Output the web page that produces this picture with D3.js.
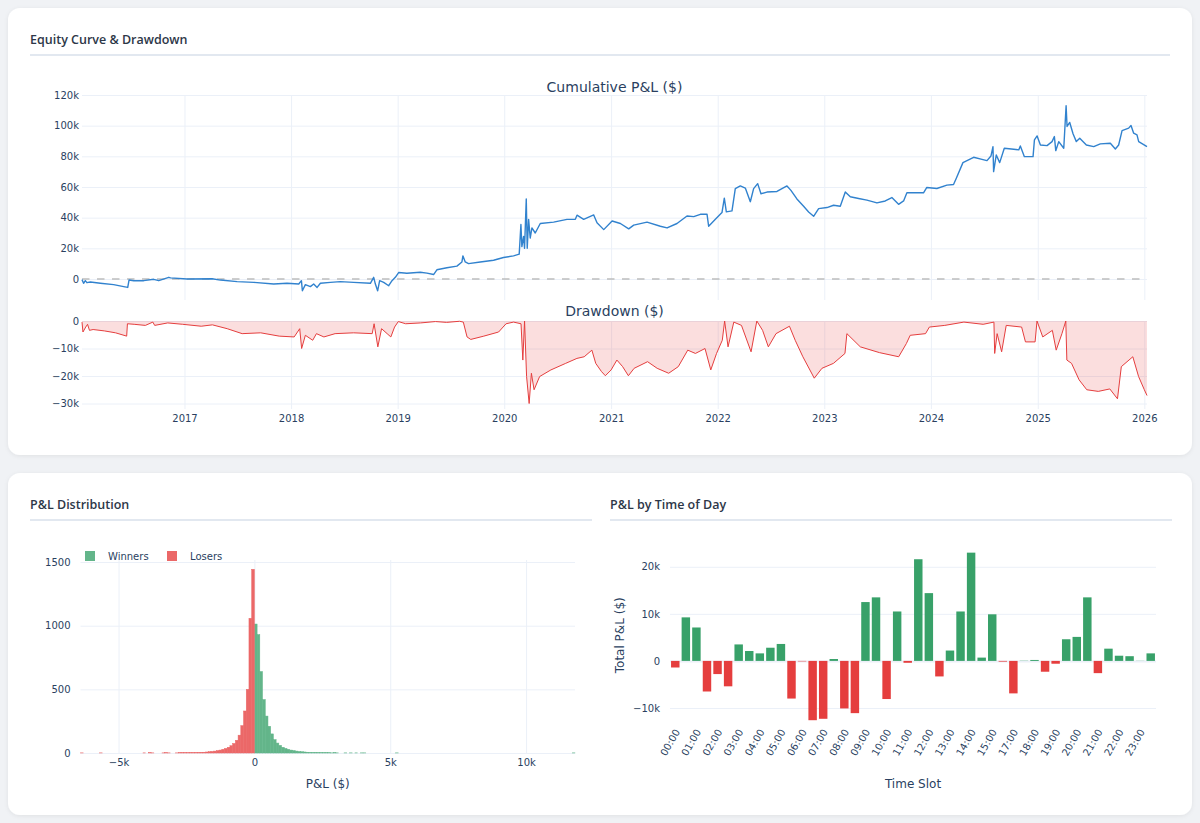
<!DOCTYPE html>
<html>
<head>
<meta charset="utf-8">
<script src="https://cdn.jsdelivr.net/npm/d3@7"></script>
<style>
  html, body { margin: 0; padding: 0; background: #f0f2f5; }
  svg { display: block; }
</style>
</head>
<body>
<svg id="dash" width="1200" height="823"></svg>
<script>
// ---- data ----
// equity curve: decimal year, cumulative P&L in $k
var eqYears = [2016.041,2016.056,2016.072,2016.087,2016.119,2016.213,2016.337,2016.431,2016.469,2016.481,
  2016.525,2016.619,2016.712,2016.759,2016.853,2016.869,2017.025,2017.259,2017.337,2017.494,
  2017.65,2017.837,2017.962,2018.072,2018.097,2018.106,2018.134,2018.181,2018.212,2018.244,
  2018.275,2018.369,2018.462,2018.587,2018.744,2018.775,2018.791,2018.812,2018.831,2018.869,
  2018.916,2018.947,2018.978,2019.009,2019.087,2019.212,2019.275,2019.337,2019.368,2019.462,
  2019.556,2019.603,2019.612,2019.634,2019.665,2019.775,2019.9,2019.993,2020.087,2020.14,
  2020.156,2020.165,2020.181,2020.19,2020.206,2020.215,2020.228,2020.243,2020.259,2020.29,
  2020.337,2020.462,2020.587,2020.665,2020.681,2020.743,2020.837,2020.868,2020.931,2021.009,
  2021.087,2021.165,2021.212,2021.337,2021.462,2021.525,2021.618,2021.712,2021.775,2021.837,
  2021.9,2021.915,2021.978,2022.04,2022.062,2022.081,2022.134,2022.165,2022.212,2022.259,
  2022.306,2022.337,2022.375,2022.406,2022.462,2022.556,2022.65,2022.687,2022.743,2022.806,
  2022.853,2022.9,2022.947,2023.025,2023.087,2023.15,2023.197,2023.244,2023.322,2023.4,
  2023.494,2023.572,2023.634,2023.697,2023.744,2023.775,2023.869,2023.931,2023.962,2024.056,
  2024.15,2024.212,2024.237,2024.3,2024.4,2024.478,2024.525,2024.562,2024.581,2024.587,
  2024.612,2024.644,2024.687,2024.775,2024.822,2024.837,2024.875,2024.956,2024.969,2024.994,
  2025.025,2025.087,2025.134,2025.156,2025.169,2025.197,2025.244,2025.266,2025.275,2025.3,
  2025.331,2025.362,2025.394,2025.456,2025.525,2025.587,2025.681,2025.728,2025.759,2025.791,
  2025.853,2025.875,2025.9,2025.931,2025.947,2026.025];
var eqK = [-0.4,-2.8,-1.1,-2.4,-2.0,-2.8,-3.7,-5.0,-5.5,-0.7,
  -1.1,-1.1,-0.2,-1.1,1.1,0.7,0,0.2,-0.7,-1.7,
  -2.2,-3.3,-2.8,-3.3,-1.1,-7.7,-3.7,-5.0,-3.3,-5.5,
  -2.8,-2.2,-1.7,-2.2,-2.8,1.1,-3.3,-7.7,-1.1,-2.2,
  -4.4,-1.1,1.1,4.2,3.7,4.4,3.8,2.9,6.0,7.3,
  8.4,11.1,15.1,11.1,10.0,11.1,12.2,14.0,15.1,16.2,
  35.5,21.1,27.8,20.0,52.2,20.0,38.9,26.7,33.3,30.0,
  36.2,37.1,38.9,38.9,41.6,38.9,41.8,36.7,32.2,37.8,
  36.2,32.7,35.1,37.1,34.4,33.3,36.2,41.1,40.7,42.2,
  42.2,34.4,38.9,43.3,52.7,43.8,44.4,58.9,60.7,59.3,
  50.4,58.9,62.2,55.6,56.7,57.1,60.7,57.8,52.2,47.4,
  43.7,40.9,45.9,46.6,48.1,47.4,56.8,53.6,52.5,51.4,
  49.6,50.9,53.1,48.7,50.9,56.2,56.2,56.2,59.7,59.0,
  61.2,61.6,65.6,75.9,79.4,78.0,77.2,80.2,86.3,70.0,
  80.9,75.9,85.3,84.6,84.2,86.8,79.8,79.8,90.7,93.3,
  87.4,87.0,89.6,92.9,83.7,89.6,85.3,113.0,99.5,102.1,
  94.7,89.6,91.8,87.4,86.3,88.1,88.5,84.8,87.4,96.8,
  98.4,100.1,95.1,94.0,89.6,86.3];

// drawdown: decimal year, $k
var ddYears = [2016.041,2016.05,2016.076,2016.093,2016.111,2016.145,2016.25,2016.355,2016.459,2016.466,
  2016.529,2016.634,2016.704,2016.721,2016.843,2016.983,2017.157,2017.262,2017.401,2017.541,
  2017.715,2017.889,2018.029,2018.081,2018.099,2018.134,2018.203,2018.238,2018.308,2018.413,
  2018.587,2018.761,2018.779,2018.814,2018.849,2018.901,2018.936,2018.971,2019.006,2019.075,
  2019.215,2019.354,2019.459,2019.581,2019.616,2019.651,2019.686,2019.808,2019.947,2020.017,
  2020.087,2020.157,2020.174,2020.19,2020.209,2020.233,2020.254,2020.279,2020.331,2020.436,
  2020.575,2020.68,2020.748,2020.82,2020.856,2020.91,2020.946,2021.0,2021.054,2021.108,
  2021.162,2021.216,2021.342,2021.432,2021.54,2021.63,2021.719,2021.791,2021.881,2021.935,
  2021.989,2022.043,2022.065,2022.097,2022.151,2022.223,2022.313,2022.367,2022.421,2022.475,
  2022.547,2022.673,2022.727,2022.799,2022.906,2022.978,2023.086,2023.194,2023.212,2023.338,
  2023.518,2023.698,2023.77,2023.806,2023.95,2023.986,2024.13,2024.309,2024.489,2024.59,
  2024.597,2024.62,2024.662,2024.705,2024.849,2024.885,2024.975,2024.993,2025.047,2025.137,
  2025.173,2025.227,2025.263,2025.273,2025.317,2025.388,2025.46,2025.568,2025.676,2025.748,
  2025.784,2025.892,2025.946,2026.0,2026.025];
var ddK = [-0.4,-4.0,-2.2,-1.2,-3.4,-3.1,-3.6,-4.3,-5.5,-1.0,
  -1.2,-1.6,-0.4,-1.6,-0.7,-1.2,-1.9,-1.4,-2.8,-4.6,
  -4.3,-5.5,-5.8,-2.8,-10.0,-5.2,-7.0,-4.6,-5.8,-4.6,
  -4.3,-4.6,-1.0,-9.4,-2.8,-4.6,-5.8,-2.2,-0.2,-1.0,
  -0.7,-0.2,-0.5,-0.1,-0.4,-5.8,-6.7,-5.5,-4.0,-1.0,
  -0.4,-1.0,-14.2,0,-20.2,-30.0,-19.0,-25.0,-20.2,-17.8,
  -15.4,-13.6,-13.0,-10.6,-15.4,-18.4,-19.9,-17.8,-14.2,-16.6,
  -19.9,-17.2,-14.8,-17.2,-19.0,-16.6,-10.6,-11.8,-10.0,-17.8,
  -11.8,-7.0,0,-9.4,-0.4,-1.6,-11.2,0,-3.4,-9.4,
  -4.6,-1.9,-7.0,-13.0,-20.8,-17.2,-15.4,-11.8,-4.6,-9.4,
  -11.5,-13.0,-8.2,-5.2,-4.6,-2.2,-1.6,-0.4,-1.2,-0.4,
  -11.8,-4.6,-11.2,-1.6,-2.2,-7.6,-7.6,0,-5.8,-3.4,
  -10.6,-4.6,0,-14.2,-15.4,-21.4,-25.0,-25.6,-24.7,-28.3,
  -16.6,-13.0,-20.2,-25.0,-27.1];

// P&L histogram, $100 bins (bin start, count)
var binSize = 100;
var loserBinStart = [-6400,-5700,-4100,-3900,-3800,-3400,-3300,-3200,-2900,-2800,-2700,-2600,-2500,-2400,
  -2300,-2200,-2100,-2000,-1900,-1800,-1700,-1600,-1500,-1400,-1300,-1200,-1100,-1000,-900,-800,
  -700,-600,-500,-400,-300,-200,-100];
var loserCounts = [1,1,1,2,1,1,2,1,1,2,2,3,2,3,
  3,4,4,5,6,8,10,12,15,19,23,29,36,45,57,75,
  100,140,215,330,500,1058,1443];
var winnerBinStart = [0,100,200,300,400,500,600,700,800,900,1000,1100,1200,1300,1400,1500,1600,1700,1800,1900,
  2000,2100,2200,2300,2400,2500,2600,2700,2800,2900,3000,3300,3500,3700,3900,4000,5200,11700];
var winnerCounts = [1013,930,640,420,290,210,150,105,78,60,45,36,29,23,19,15,12,10,8,6,
  5,4,4,3,3,2,2,2,1,2,1,1,1,1,1,1,1,1];

// P&L by time slot ($)
var slotLabels = ["00:00","00:30","01:00","01:30","02:00","02:30","03:00","03:30","04:00","04:30",
  "05:00","05:30","06:00","06:30","07:00","07:30","08:00","08:30","09:00","09:30",
  "10:00","10:30","11:00","11:30","12:00","12:30","13:00","13:30","14:00","14:30",
  "15:00","15:30","17:00","17:30","18:00","18:30","19:00","19:30","20:00","20:30",
  "21:00","21:30","22:00","22:30","23:00","23:30"];
var slotPnl = [-1400,9250,7100,-6500,-2800,-5400,3500,2100,1600,2800,
  3600,-8000,-100,-12600,-12300,400,-10100,-11100,12500,13500,
  -8100,10500,-400,21600,14400,-3300,2200,10500,23000,700,
  9900,-150,-6900,50,200,-2300,-600,4600,5100,13500,
  -2600,2600,1100,1000,30,1600];

// ---- styling ----
var PF = "'DejaVu Sans', Verdana, sans-serif";
var TXT = "#2a3f5f";
var GRID = "#ebf0f8";
var GREEN = "#38a169", RED = "#e53e3e", BLUE = "#3182ce";
var HGREEN = "#63b58a", HRED = "#eb6868";   // histogram tones (semi-transparent look)

var svg = d3.select("#dash");

var defs = svg.append("defs");
var f = defs.append("filter").attr("id", "shadow").attr("x", "-5%").attr("y", "-5%").attr("width", "110%").attr("height", "115%");
f.append("feDropShadow").attr("dx", 0).attr("dy", 1).attr("stdDeviation", 2).attr("flood-color", "#000").attr("flood-opacity", 0.07);

// cards
svg.append("rect").attr("x", 8).attr("y", 8).attr("width", 1184).attr("height", 447)
  .attr("rx", 12).attr("fill", "#fff").attr("filter", "url(#shadow)");
svg.append("rect").attr("x", 8).attr("y", 473).attr("width", 1184).attr("height", 342)
  .attr("rx", 12).attr("fill", "#fff").attr("filter", "url(#shadow)");

function cardTitle(label, x, y, x2) {
  svg.append("text").attr("x", x).attr("y", y).text(label)
    .attr("font-family", "'Open Sans', 'Noto Sans', sans-serif").attr("font-weight", 600)
    .attr("font-size", "12.5px").attr("fill", "#2d3748");
  svg.append("line").attr("x1", x).attr("x2", x2).attr("y1", y + 11).attr("y2", y + 11)
    .attr("stroke", "#e2e8f0").attr("stroke-width", 2);
}
cardTitle("Equity Curve & Drawdown", 30, 44, 1170);
cardTitle("P&L Distribution", 30, 509, 592);
cardTitle("P&L by Time of Day", 610, 509, 1172);

function styleAxis(g, lineColor, lineW) {
  g.select(".domain").remove();
  g.selectAll(".tick line").attr("stroke", lineColor || GRID).attr("stroke-width", lineW || 1);
  g.selectAll("text").attr("fill", TXT).attr("font-family", PF).attr("font-size", "10px");
}
var fmtK = function (d) { return d === 0 ? "0" : d3.format("~s")(d); };

function yearToDate(y) {
  var yr = Math.floor(y);
  var s = Date.UTC(yr, 0, 1), e = Date.UTC(yr + 1, 0, 1);
  return new Date(s + (y - yr) * (e - s));
}

// ---- equity + drawdown ----
var X0 = 82, X1 = 1147;
var eqTop = 95, eqBot = 300, ddTop = 321, ddBot = 409;

var equity = eqYears.map(function (y, i) { return { date: yearToDate(y), v: eqK[i] * 1000 }; });
var drawdown = ddYears.map(function (y, i) { return { date: yearToDate(y), v: ddK[i] * 1000 }; });

var x = d3.scaleUtc()
  .domain([yearToDate(eqYears[0]), yearToDate(eqYears[eqYears.length - 1])])
  .range([X0, X1]);
var yEq = d3.scaleLinear().domain([-13700, 120000]).range([eqBot, eqTop]);
var yDd = d3.scaleLinear().domain([-32000, 0]).range([ddBot, ddTop]);

var eqG = svg.append("g");

// vertical year grid, top subplot
eqG.append("g").attr("transform", "translate(0," + eqBot + ")")
  .call(d3.axisBottom(x).ticks(d3.utcYear.every(1)).tickSize(-(eqBot - eqTop)).tickFormat(""))
  .call(styleAxis);
// horizontal grid + labels, top subplot
eqG.append("g").attr("transform", "translate(" + X0 + ",0)")
  .call(d3.axisLeft(yEq).tickValues(d3.range(0, 120001, 20000)).tickSize(-(X1 - X0)).tickPadding(3).tickFormat(fmtK))
  .call(styleAxis);
// vertical year grid + labels, drawdown subplot
eqG.append("g").attr("transform", "translate(0," + ddBot + ")")
  .call(d3.axisBottom(x).ticks(d3.utcYear.every(1)).tickSize(-(ddBot - ddTop)).tickPadding(6).tickFormat(d3.utcFormat("%Y")))
  .call(styleAxis);
eqG.append("g").attr("transform", "translate(" + X0 + ",0)")
  .call(d3.axisLeft(yDd).tickValues([0, -10000, -20000, -30000]).tickSize(-(X1 - X0)).tickPadding(3).tickFormat(fmtK))
  .call(styleAxis);

// zero reference line
eqG.append("line").attr("x1", X0).attr("x2", X1).attr("y1", yEq(0)).attr("y2", yEq(0))
  .attr("stroke", "#bdbdbd").attr("stroke-width", 1.5).attr("stroke-dasharray", "7.5,7.5");

eqG.append("path").datum(equity)
  .attr("d", d3.line().x(function (d) { return x(d.date); }).y(function (d) { return yEq(d.v); }))
  .attr("fill", "none").attr("stroke", BLUE).attr("stroke-width", 1.4).attr("stroke-linejoin", "round");

eqG.append("path").datum(drawdown)
  .attr("d", d3.area().x(function (d) { return x(d.date); }).y0(yDd(0)).y1(function (d) { return yDd(d.v); }))
  .attr("fill", "rgba(229,62,62,0.17)");
eqG.append("path").datum(drawdown)
  .attr("d", d3.line().x(function (d) { return x(d.date); }).y(function (d) { return yDd(d.v); }))
  .attr("fill", "none").attr("stroke", RED).attr("stroke-width", 1);

eqG.append("text").attr("x", (X0 + X1) / 2).attr("y", 92).attr("text-anchor", "middle")
  .attr("font-family", PF).attr("font-size", "14px").attr("fill", TXT).text("Cumulative P&L ($)");
eqG.append("text").attr("x", (X0 + X1) / 2).attr("y", 316).attr("text-anchor", "middle")
  .attr("font-family", PF).attr("font-size", "14px").attr("fill", TXT).text("Drawdown ($)");

// ---- histogram ----
var H0 = 80.5, H1 = 575, hTop = 560, hBot = 753;
var hx = d3.scaleLinear().domain([-6400, 11800]).range([H0, H1]);
var hy = d3.scaleLinear().domain([0, 1516]).range([hBot, hTop]);
var hist = svg.append("g");

hist.append("g").attr("transform", "translate(0," + hBot + ")")
  .call(d3.axisBottom(hx).tickValues([-5000, 0, 5000, 10000]).tickSize(-(hBot - hTop)).tickPadding(6).tickFormat(fmtK))
  .call(styleAxis);
hist.append("g").attr("transform", "translate(" + H0 + ",0)")
  .call(d3.axisLeft(hy).tickValues([0, 500, 1000, 1500]).tickSize(-(H1 - H0)).tickPadding(10).tickFormat(d3.format("d")))
  .call(styleAxis);

var winners = winnerBinStart.map(function (s, i) { return { s: s, c: winnerCounts[i] }; });
var losers = loserBinStart.map(function (s, i) { return { s: s, c: loserCounts[i] }; });

function drawBins(data, color) {
  hist.append("g").selectAll("rect").data(data).enter().append("rect")
    .attr("x", function (d) { return hx(d.s); })
    .attr("width", function (d) { return hx(d.s + binSize) - hx(d.s); })
    .attr("y", function (d) { return hy(d.c); })
    .attr("height", function (d) { return hy(0) - hy(d.c); })
    .attr("fill", color).attr("stroke", color).attr("stroke-width", 0.5);
}
drawBins(winners, HGREEN);
drawBins(losers, HRED);

// legend
var leg = hist.append("g").attr("transform", "translate(85,556)");
[["Winners", HGREEN, 0], ["Losers", HRED, 82]].forEach(function (l) {
  leg.append("rect").attr("x", l[2]).attr("y", -5).attr("width", 10).attr("height", 10)
    .attr("fill", l[1]);
  leg.append("text").attr("x", l[2] + 23).attr("y", 0).attr("dy", "0.35em")
    .attr("font-family", PF).attr("font-size", "10px").attr("fill", TXT).text(l[0]);
});

hist.append("text").attr("x", (H0 + H1) / 2).attr("y", 788).attr("text-anchor", "middle")
  .attr("font-family", PF).attr("font-size", "12px").attr("fill", TXT).text("P&L ($)");

// ---- P&L by time of day ----
var B0 = 670, B1 = 1156, bTop = 547, bBot = 723.5;
var bx = d3.scaleBand().domain(slotLabels).range([B0, B1]).paddingInner(0.2).paddingOuter(0.1);
var by = d3.scaleLinear().domain([-13300, 24200]).range([bBot, bTop]);
var bars = svg.append("g");

bars.append("g").attr("transform", "translate(" + B0 + ",0)")
  .call(d3.axisLeft(by).tickValues([-10000, 10000, 20000]).tickSize(-(B1 - B0)).tickPadding(10).tickFormat(fmtK))
  .call(styleAxis);
bars.append("g").attr("transform", "translate(" + B0 + ",0)")
  .call(d3.axisLeft(by).tickValues([0]).tickSize(-(B1 - B0)).tickPadding(10).tickFormat(fmtK))
  .call(function (g) { styleAxis(g, GRID, 2); });

bars.append("g").selectAll("rect").data(slotLabels).enter().append("rect")
  .attr("x", function (d) { return bx(d); })
  .attr("width", bx.bandwidth())
  .attr("y", function (d, i) { return by(Math.max(0, slotPnl[i])); })
  .attr("height", function (d, i) { return Math.abs(by(slotPnl[i]) - by(0)); })
  .attr("fill", function (d, i) { return slotPnl[i] >= 0 ? GREEN : RED; });

bars.append("g").selectAll("text").data(slotLabels.filter(function (d, i) { return i % 2 === 0; }))
  .enter().append("text")
  .attr("transform", function (d) { return "translate(" + (bx(d) + bx.bandwidth() / 2 + 2) + ",730) rotate(-60)"; })
  .attr("text-anchor", "end").attr("dy", "0.35em")
  .attr("font-family", PF).attr("font-size", "10px").attr("fill", TXT)
  .text(function (d) { return d; });

bars.append("text").attr("x", (B0 + B1) / 2).attr("y", 788).attr("text-anchor", "middle")
  .attr("font-family", PF).attr("font-size", "12px").attr("fill", TXT).text("Time Slot");
bars.append("text").attr("transform", "translate(624," + ((bTop + bBot) / 2) + ") rotate(-90)")
  .attr("text-anchor", "middle")
  .attr("font-family", PF).attr("font-size", "12px").attr("fill", TXT).text("Total P&L ($)");
</script>
</body>
</html>
